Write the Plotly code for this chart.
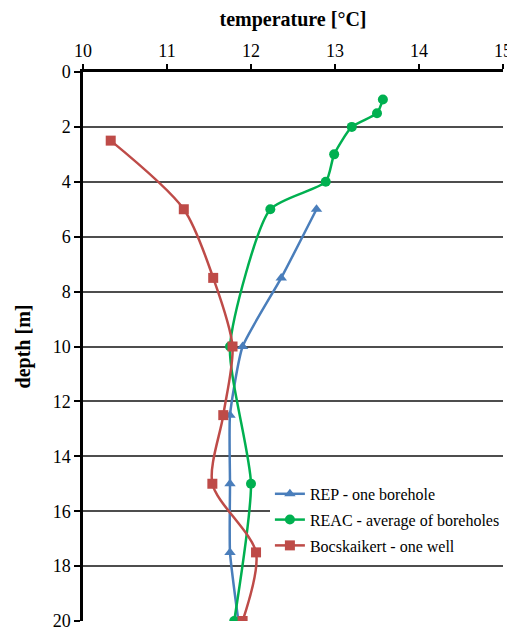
import plotly.graph_objects as go

# REP - one borehole
rep_depth = [5, 7.5, 10, 12.5, 15, 17.5, 20]
rep_temp = [12.78, 12.36, 11.9, 11.75, 11.75, 11.75, 11.85]

# REAC - average of boreholes
reac_depth = [1, 1.5, 2, 3, 4, 5, 10, 15, 20]
reac_temp = [13.57, 13.5, 13.2, 12.99, 12.89, 12.23, 11.75, 12.0, 11.8]

# Bocskaikert - one well
boc_depth = [2.5, 5, 7.5, 10, 12.5, 15, 17.5, 20]
boc_temp = [10.33, 11.2, 11.55, 11.78, 11.67, 11.54, 12.06, 11.9]

fig = go.Figure()
fig.add_trace(go.Scatter(x=rep_temp, y=rep_depth, name="REP - one borehole", legendgroup="a",
                         mode="lines+markers", line=dict(color="#4A7EBB", width=2.5, shape="spline", smoothing=0.5),
                         marker=dict(symbol="triangle-up", size=10, color="#4A7EBB")))
fig.add_trace(go.Scatter(x=reac_temp, y=reac_depth, name="REAC - average of boreholes", legendgroup="b",
                         mode="lines+markers", line=dict(color="#00B050", width=2.5, shape="spline", smoothing=0.6),
                         marker=dict(symbol="circle", size=10, color="#00B050")))
fig.add_trace(go.Scatter(x=boc_temp, y=boc_depth, name="Bocskaikert - one well", legendgroup="c",
                         mode="lines+markers", line=dict(color="#BE4B48", width=2.5, shape="spline", smoothing=0.8),
                         marker=dict(symbol="square", size=10, color="#BE4B48")))

font = "Liberation Serif"
fig.update_layout(
    width=507, height=623,
    margin=dict(l=75, r=10, t=64, b=10),
    plot_bgcolor="white", paper_bgcolor="white",
    font=dict(family=font, size=18, color="black"),
    showlegend=True,
    legend=dict(x=0.445, y=0.2625, xanchor="left", yanchor="top",
                bgcolor="white", font=dict(family=font, size=16, color="black"),
                tracegroupgap=2, itemwidth=30),
    xaxis=dict(side="top", range=[10, 15], dtick=1, showgrid=False, automargin=False,
               ticklabeloverflow="allow",
               showline=True, linecolor="black", linewidth=2.5,
               ticks="outside", ticklen=5, tickwidth=2, tickcolor="black",
               title=dict(text="<b>temperature [°C]</b>", font=dict(size=20), standoff=11),
               zeroline=False),
    yaxis=dict(range=[20, 0], dtick=2, showgrid=True, gridcolor="#4D4D4D", gridwidth=2,
               automargin=False, ticklabeloverflow="allow",
               showline=True, linecolor="black", linewidth=2.5,
               ticks="outside", ticklen=6, tickwidth=2, tickcolor="black",
               title=dict(text="<b>depth [m]</b>", font=dict(size=20), standoff=17),
               zeroline=False),
)

fig.write_html("out.html")
